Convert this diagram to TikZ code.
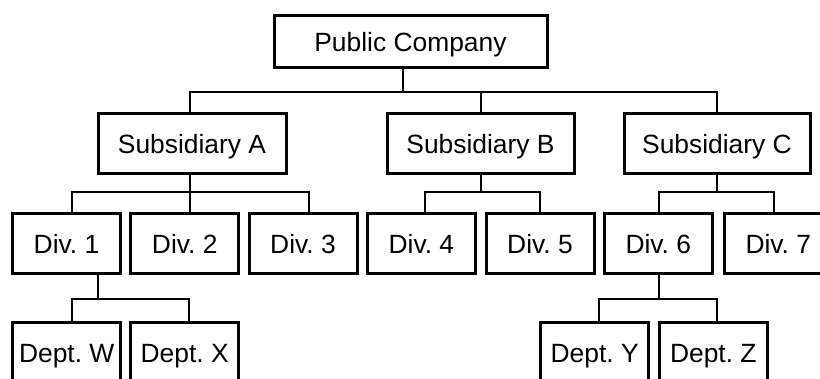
\documentclass[tikz,border=0pt]{standalone}
\usepackage{fontspec}
\setmainfont{Liberation Sans}
\frenchspacing
\begin{document}
\begin{tikzpicture}[x=1pt,y=1pt,
  box/.style={draw=black,line width=3pt,rectangle,inner sep=0pt,outer sep=0pt,
    minimum height=60pt,font=\fontsize{26.4}{30}\selectfont,
    text height=18.9pt,text depth=0pt},
  divbox/.style={box,minimum width=108pt},
  conn/.style={draw=black,line width=2.2pt,line cap=rect}]
\clip (0,0) rectangle (820,379);
\fill[white] (0,0) rectangle (820,379);
% nodes
\node[box,minimum width=273pt,minimum height=52pt] (pc) at (410.5,337) {Public Company};
\node[box,minimum width=188pt] (subA) at (192,235) {Subsidiary A};
\node[box,minimum width=187pt] (subB) at (480.5,235) {Subsidiary B};
\node[box,minimum width=186pt] (subC) at (717,235) {Subsidiary C};
\node[divbox] (d1) at (66.5,135) {Div. 1};
\node[divbox] (d2) at (184.7,135) {Div. 2};
\node[divbox] (d3) at (303,135) {Div. 3};
\node[divbox] (d4) at (421.4,135) {Div. 4};
\node[divbox] (d5) at (540,135) {Div. 5};
\node[divbox] (d6) at (658.3,135) {Div. 6};
\node[divbox] (d7) at (778.3,135) {Div. 7};
\node[divbox] (dw) at (66.7,26) {Dept. W};
\node[divbox] (dx) at (184.7,26) {Dept. X};
\node[divbox] (dy) at (594.7,26) {Dept. Y};
\node[divbox] (dz) at (713.3,26) {Dept. Z};
% bar levels and attachment columns
\coordinate (bar1) at (0,287);
\coordinate (bar2) at (0,187.3);
\coordinate (bar3) at (0,80);
\coordinate (xpc) at (403,0);
\coordinate (xA) at (190,0);
\coordinate (xB) at (481,0);
\coordinate (xC) at (716.7,0);
\coordinate (x1) at (71.7,0);
\coordinate (x2) at (190,0);
\coordinate (x3) at (309,0);
\coordinate (x4) at (425,0);
\coordinate (x5) at (540,0);
\coordinate (x6) at (659.3,0);
\coordinate (x7) at (774,0);
\coordinate (x1d) at (98.3,0);
\coordinate (xw) at (71.7,0);
\coordinate (xx) at (189,0);
\coordinate (xy) at (599,0);
\coordinate (xz) at (716.7,0);
% connectors level 1
\draw[conn] (pc.south -| xpc) -- (xpc |- bar1);
\draw[conn] (subA.north -| xA) -- (xA |- bar1) -- (xC |- bar1) -- (subC.north -| xC);
\draw[conn] (subB.north -| xB) -- (xB |- bar1);
% Subsidiary A
\draw[conn] (subA.south -| xA) -- (xA |- bar2);
\draw[conn] (d1.north -| x1) -- (x1 |- bar2) -- (x3 |- bar2) -- (d3.north -| x3);
\draw[conn] (d2.north -| x2) -- (x2 |- bar2);
% Subsidiary B
\draw[conn] (subB.south -| xB) -- (xB |- bar2);
\draw[conn] (d4.north -| x4) -- (x4 |- bar2) -- (x5 |- bar2) -- (d5.north -| x5);
% Subsidiary C
\draw[conn] (subC.south -| xC) -- (xC |- bar2);
\draw[conn] (d6.north -| x6) -- (x6 |- bar2) -- (x7 |- bar2) -- (d7.north -| x7);
% Div. 1
\draw[conn] (d1.south -| x1d) -- (x1d |- bar3);
\draw[conn] (dw.north -| xw) -- (xw |- bar3) -- (xx |- bar3) -- (dx.north -| xx);
% Div. 6
\draw[conn] (d6.south -| x6) -- (x6 |- bar3);
\draw[conn] (dy.north -| xy) -- (xy |- bar3) -- (xz |- bar3) -- (dz.north -| xz);
\end{tikzpicture}
\end{document}
